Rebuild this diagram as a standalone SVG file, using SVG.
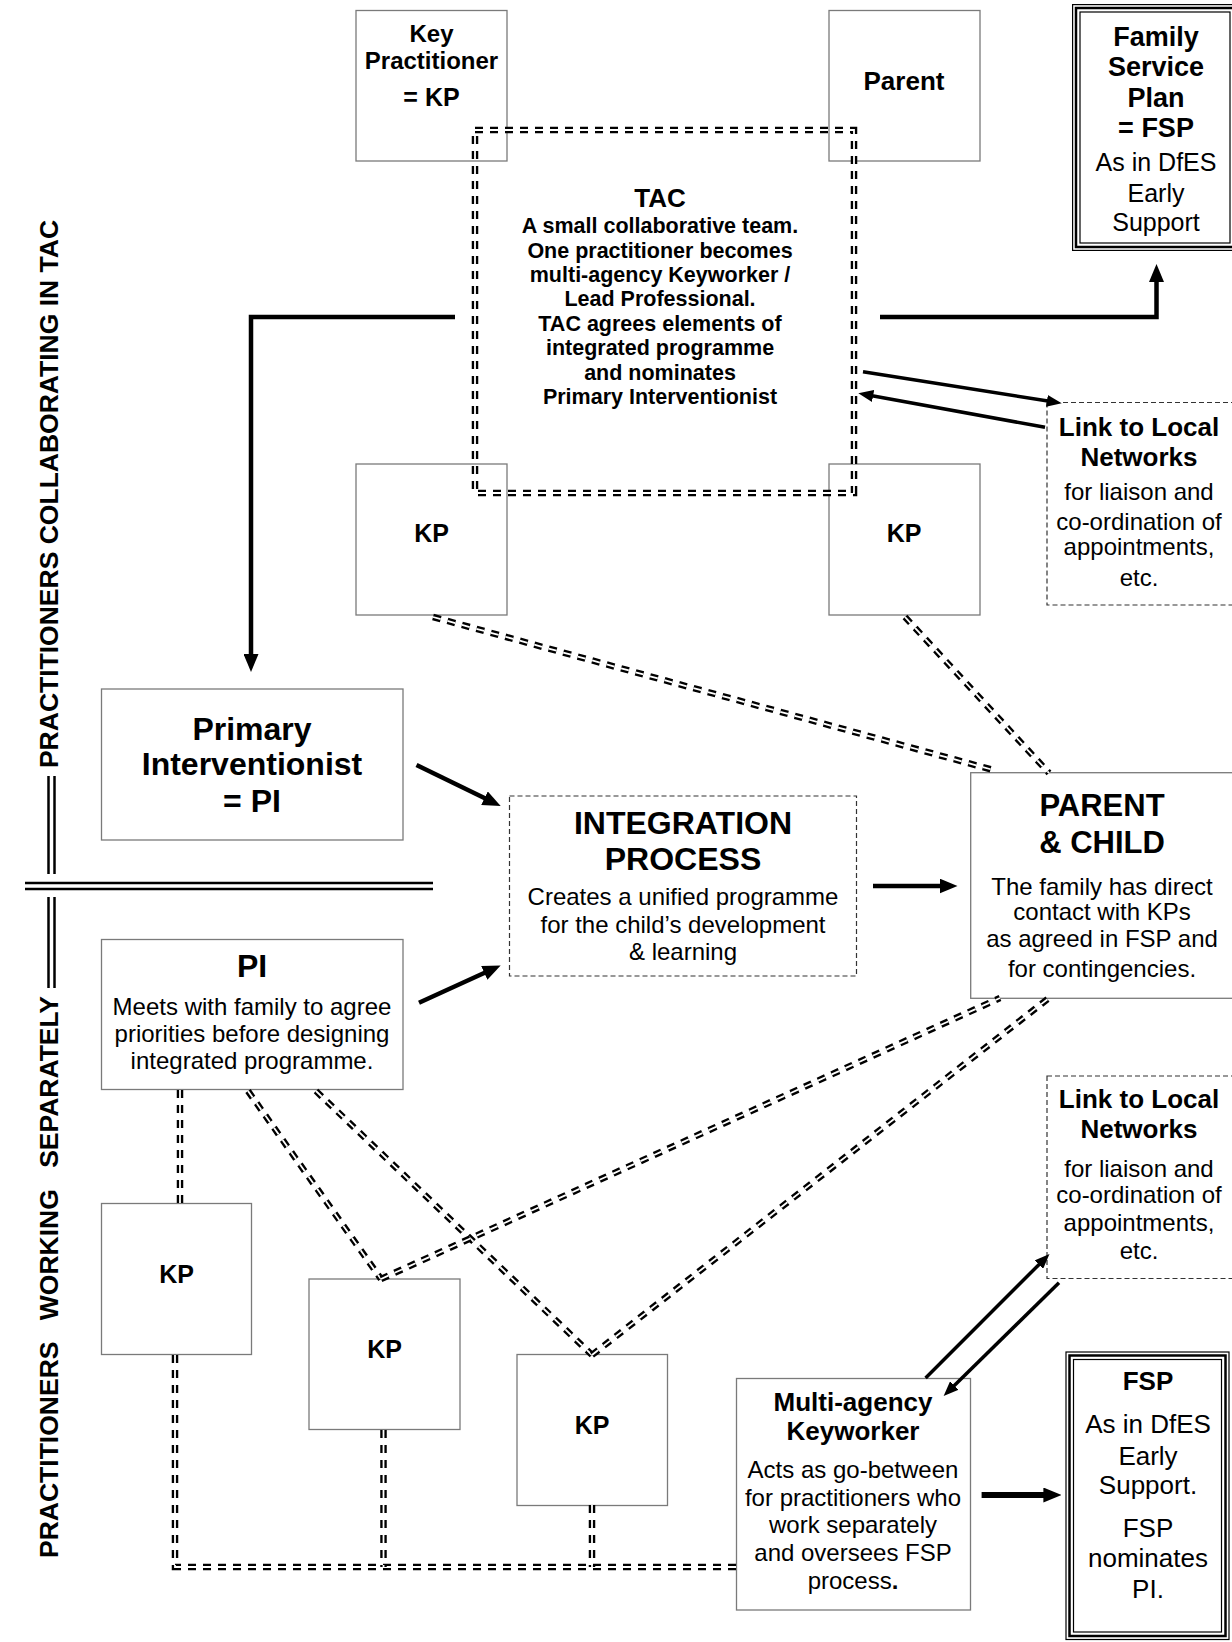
<svg xmlns="http://www.w3.org/2000/svg" xmlns:xlink="http://www.w3.org/1999/xlink" width="1232" height="1642" viewBox="0 0 1232 1642">
<style>
text { font-family: "Liberation Sans", Arial, sans-serif; fill: #000; }
.b { font-weight: bold; }
.box { fill: #fff; stroke: #7a7a7a; stroke-width: 1.3; }
.dbox { fill: #fff; stroke: #333; stroke-width: 1.2; stroke-dasharray: 5 3; }
.dd1 { fill: none; stroke: #000; stroke-width: 6.5; stroke-dasharray: 8 7; }
.dd2 { fill: none; stroke: #fff; stroke-width: 1.8; stroke-dasharray: 8 7; }
.thick { fill: none; stroke: #000; stroke-width: 4.5; }
.med { fill: none; stroke: #000; stroke-width: 3.5; }
.rule { stroke: #000; stroke-width: 2.5; }
.fr1 { fill: none; stroke: #000; stroke-width: 1.2; }
.fr2 { fill: none; stroke: #000; stroke-width: 2.5; }
</style>
<defs>
<marker id="ah" markerUnits="userSpaceOnUse" markerWidth="18" markerHeight="15" refX="1" refY="7.5" orient="auto">
<path d="M0,0 L18,7.5 L0,15 z" fill="#000"/>
</marker>
<marker id="ahs" markerUnits="userSpaceOnUse" markerWidth="15" markerHeight="12" refX="1" refY="6" orient="auto">
<path d="M0,0 L15,6 L0,12 z" fill="#000"/>
</marker>
<path id="tacr" d="M475,130 H854 V493 H475 Z"/>
<path id="ca" d="M433,617 L997,771"/>
<path id="cb" d="M905,617 L1049,773"/>
<path id="cc" d="M180,1090 V1204"/>
<path id="cd" d="M248,1091 L381,1279"/>
<path id="ce" d="M316,1091 L592,1355"/>
<path id="cf" d="M381,1279 L1000,998"/>
<path id="cg" d="M592,1355 L1049,998"/>
<path id="ch" d="M175,1355 V1567 H736"/>
<path id="ci" d="M383.5,1430 V1567"/>
<path id="cj" d="M592,1505 V1567"/>
</defs>

<g id="dividers">
<line class="rule" x1="25" y1="883" x2="433" y2="883"/>
<line class="rule" x1="25" y1="889" x2="433" y2="889"/>
<line class="rule" x1="48.5" y1="776" x2="48.5" y2="874"/>
<line class="rule" x1="54.5" y1="776" x2="54.5" y2="874"/>
<line class="rule" x1="48.5" y1="897" x2="48.5" y2="988"/>
<line class="rule" x1="54.5" y1="897" x2="54.5" y2="988"/>
<text class="b" font-size="26.5" text-anchor="middle" transform="translate(58,494) rotate(-90)">PRACTITIONERS COLLABORATING IN TAC</text>
<text class="b" font-size="26.5" text-anchor="middle" word-spacing="14" transform="translate(58,1277) rotate(-90)">PRACTITIONERS WORKING SEPARATELY</text>
</g>

<g id="key-practitioner">
<rect class="box" x="356" y="10.5" width="151" height="150.5"/>
<text class="b" font-size="24" x="431.5" y="42" text-anchor="middle">Key</text>
<text class="b" font-size="24" x="431.5" y="69" text-anchor="middle">Practitioner</text>
<text class="b" font-size="25" x="431.5" y="106" text-anchor="middle">= KP</text>
</g>

<g id="parent">
<rect class="box" x="829" y="10.5" width="151" height="150.5"/>
<text class="b" font-size="26" x="904" y="90" text-anchor="middle">Parent</text>
</g>

<g id="fsp-top">
<rect fill="#fff" x="1072" y="4" width="166" height="247"/>
<rect class="fr1" x="1072.6" y="4.6" width="164.8" height="245.8"/>
<rect class="fr2" x="1076" y="8" width="158" height="239"/>
<rect class="fr1" x="1080" y="12" width="150" height="231"/>
<text class="b" font-size="27" x="1156" y="46" text-anchor="middle">Family</text>
<text class="b" font-size="27" x="1156" y="76" text-anchor="middle">Service</text>
<text class="b" font-size="27" x="1156" y="106.5" text-anchor="middle">Plan</text>
<text class="b" font-size="27" x="1156" y="137" text-anchor="middle">= FSP</text>
<text font-size="25" x="1156" y="171" text-anchor="middle">As in DfES</text>
<text font-size="25" x="1156" y="202" text-anchor="middle">Early</text>
<text font-size="25" x="1156" y="230.5" text-anchor="middle">Support</text>
</g>

<g id="kp-tac-left">
<rect class="box" x="356" y="464" width="151" height="151"/>
<text class="b" font-size="25" x="431.5" y="542" text-anchor="middle">KP</text>
</g>

<g id="kp-tac-right">
<rect class="box" x="829" y="464" width="151" height="151"/>
<text class="b" font-size="25" x="904" y="542" text-anchor="middle">KP</text>
</g>

<g id="tac">
<use xlink:href="#tacr" class="dd1"/>
<use xlink:href="#tacr" class="dd2"/>
<text class="b" font-size="26" x="660" y="207" text-anchor="middle">TAC</text>
<text class="b" font-size="21.5" x="660" y="233" text-anchor="middle">A small collaborative team.</text>
<text class="b" font-size="21.5" x="660" y="257.5" text-anchor="middle">One practitioner becomes</text>
<text class="b" font-size="21.5" x="660" y="282" text-anchor="middle">multi-agency Keyworker /</text>
<text class="b" font-size="21.5" x="660" y="306" text-anchor="middle">Lead Professional.</text>
<text class="b" font-size="21.5" x="660" y="330.5" text-anchor="middle">TAC agrees elements of</text>
<text class="b" font-size="21.5" x="660" y="355" text-anchor="middle">integrated programme</text>
<text class="b" font-size="21.5" x="660" y="379.5" text-anchor="middle">and nominates</text>
<text class="b" font-size="21.5" x="660" y="403.5" text-anchor="middle">Primary Interventionist</text>
</g>

<g id="link-top">
<rect class="dbox" x="1047" y="402.5" width="200" height="202.5"/>
<text class="b" font-size="26" x="1139" y="436" text-anchor="middle">Link to Local</text>
<text class="b" font-size="26" x="1139" y="466" text-anchor="middle">Networks</text>
<text font-size="24" x="1139" y="500" text-anchor="middle">for liaison and</text>
<text font-size="24" x="1139" y="530" text-anchor="middle">co-ordination of</text>
<text font-size="24" x="1139" y="555" text-anchor="middle">appointments,</text>
<text font-size="24" x="1139" y="586" text-anchor="middle">etc.</text>
</g>

<g id="primary-interventionist">
<rect class="box" x="101.5" y="689" width="301.5" height="151"/>
<text class="b" font-size="32" x="252" y="740" text-anchor="middle">Primary</text>
<text class="b" font-size="32" x="252" y="775" text-anchor="middle">Interventionist</text>
<text class="b" font-size="32" x="252" y="812" text-anchor="middle">= PI</text>
</g>

<g id="integration-process">
<rect class="dbox" x="509.5" y="796" width="347" height="180"/>
<text class="b" font-size="32" x="683" y="834" text-anchor="middle">INTEGRATION</text>
<text class="b" font-size="32" x="683" y="870" text-anchor="middle">PROCESS</text>
<text font-size="24" x="683" y="905" text-anchor="middle">Creates a unified programme</text>
<text font-size="24" x="683" y="933" text-anchor="middle">for the child’s development</text>
<text font-size="24" x="683" y="960" text-anchor="middle">&amp; learning</text>
</g>

<g id="parent-child">
<rect class="box" x="970.7" y="772.7" width="264" height="225.6"/>
<text class="b" font-size="31" x="1102" y="816" text-anchor="middle">PARENT</text>
<text class="b" font-size="31" x="1102" y="853" text-anchor="middle">&amp; CHILD</text>
<text font-size="24" x="1102" y="895" text-anchor="middle">The family has direct</text>
<text font-size="24" x="1102" y="920" text-anchor="middle">contact with KPs</text>
<text font-size="24" x="1102" y="947" text-anchor="middle">as agreed in FSP and</text>
<text font-size="24" x="1102" y="977" text-anchor="middle">for contingencies.</text>
</g>

<g id="pi">
<rect class="box" x="101.5" y="939.5" width="301.5" height="150"/>
<text class="b" font-size="32" x="252" y="977" text-anchor="middle">PI</text>
<text font-size="24" x="252" y="1015" text-anchor="middle">Meets with family to agree</text>
<text font-size="24" x="252" y="1042" text-anchor="middle">priorities before designing</text>
<text font-size="24" x="252" y="1069" text-anchor="middle">integrated programme.</text>
</g>

<g id="link-bottom">
<rect class="dbox" x="1047" y="1076" width="200" height="202.5"/>
<text class="b" font-size="26" x="1139" y="1108" text-anchor="middle">Link to Local</text>
<text class="b" font-size="26" x="1139" y="1138" text-anchor="middle">Networks</text>
<text font-size="24" x="1139" y="1177" text-anchor="middle">for liaison and</text>
<text font-size="24" x="1139" y="1203" text-anchor="middle">co-ordination of</text>
<text font-size="24" x="1139" y="1231" text-anchor="middle">appointments,</text>
<text font-size="24" x="1139" y="1259" text-anchor="middle">etc.</text>
</g>

<g id="kp-sep-1">
<rect class="box" x="101.5" y="1203.5" width="150" height="151"/>
<text class="b" font-size="25" x="176.5" y="1283" text-anchor="middle">KP</text>
</g>

<g id="kp-sep-2">
<rect class="box" x="309" y="1279" width="151" height="150.5"/>
<text class="b" font-size="25" x="384.5" y="1358" text-anchor="middle">KP</text>
</g>

<g id="kp-sep-3">
<rect class="box" x="517" y="1354.5" width="150.5" height="151"/>
<text class="b" font-size="25" x="592" y="1434" text-anchor="middle">KP</text>
</g>

<g id="multi-agency-keyworker">
<rect class="box" x="736.5" y="1378.5" width="234" height="231.5"/>
<text class="b" font-size="26" x="853" y="1411" text-anchor="middle">Multi-agency</text>
<text class="b" font-size="26" x="853" y="1439.5" text-anchor="middle">Keyworker</text>
<text font-size="24" x="853" y="1477.5" text-anchor="middle">Acts as go-between</text>
<text font-size="24" x="853" y="1505.5" text-anchor="middle">for practitioners who</text>
<text font-size="24" x="853" y="1533" text-anchor="middle">work separately</text>
<text font-size="24" x="853" y="1561" text-anchor="middle">and oversees FSP</text>
<text font-size="24" x="853" y="1589" text-anchor="middle">process<tspan class="b">.</tspan></text>
</g>

<g id="fsp-bottom">
<rect fill="#fff" x="1065.5" y="1351.5" width="164" height="288.5"/>
<rect class="fr1" x="1066" y="1352" width="163" height="287.5"/>
<rect class="fr2" x="1069.5" y="1355.5" width="156" height="280.5"/>
<rect class="fr1" x="1073.5" y="1359.5" width="148" height="272.5"/>
<text class="b" font-size="26" x="1148" y="1390" text-anchor="middle">FSP</text>
<text font-size="26" x="1148" y="1433" text-anchor="middle">As in DfES</text>
<text font-size="26" x="1148" y="1464.5" text-anchor="middle">Early</text>
<text font-size="26" x="1148" y="1494" text-anchor="middle">Support.</text>
<text font-size="26" x="1148" y="1537" text-anchor="middle">FSP</text>
<text font-size="26" x="1148" y="1566.5" text-anchor="middle">nominates</text>
<text font-size="26" x="1148" y="1598" text-anchor="middle">PI.</text>
</g>

<g id="connectors">
<use xlink:href="#ca" class="dd1"/><use xlink:href="#ca" class="dd2"/>
<use xlink:href="#cb" class="dd1"/><use xlink:href="#cb" class="dd2"/>
<use xlink:href="#cc" class="dd1"/><use xlink:href="#cc" class="dd2"/>
<use xlink:href="#cd" class="dd1"/><use xlink:href="#cd" class="dd2"/>
<use xlink:href="#ce" class="dd1"/><use xlink:href="#ce" class="dd2"/>
<use xlink:href="#cf" class="dd1"/><use xlink:href="#cf" class="dd2"/>
<use xlink:href="#cg" class="dd1"/><use xlink:href="#cg" class="dd2"/>
<use xlink:href="#ch" class="dd1"/><use xlink:href="#ch" class="dd2"/>
<use xlink:href="#ci" class="dd1"/><use xlink:href="#ci" class="dd2"/>
<use xlink:href="#cj" class="dd1"/><use xlink:href="#cj" class="dd2"/>
<path class="thick" d="M455,317 H251 V655" marker-end="url(#ah)"/>
<path class="thick" d="M880,317 H1156.5 V281" marker-end="url(#ah)"/>
<path class="med" d="M863,371.7 L1047.9,401.1" marker-end="url(#ahs)"/>
<path class="med" d="M1045,427.3 L872.1,395.8" marker-end="url(#ahs)"/>
<path class="thick" d="M416.5,765 L485.4,798.6" marker-end="url(#ah)"/>
<path class="thick" d="M419,1002.7 L485.2,972.5" marker-end="url(#ah)"/>
<path class="thick" d="M873,886 L940.5,886" marker-end="url(#ah)"/>
<path class="thick" style="stroke-width:6" d="M981.6,1495 L1044.4,1495" marker-end="url(#ah)"/>
<path class="med" d="M925.6,1378 L1039.6,1263.9" marker-end="url(#ahs)"/>
<path class="med" d="M1059,1282.7 L953.6,1386.2" marker-end="url(#ahs)"/>
</g>
</svg>
